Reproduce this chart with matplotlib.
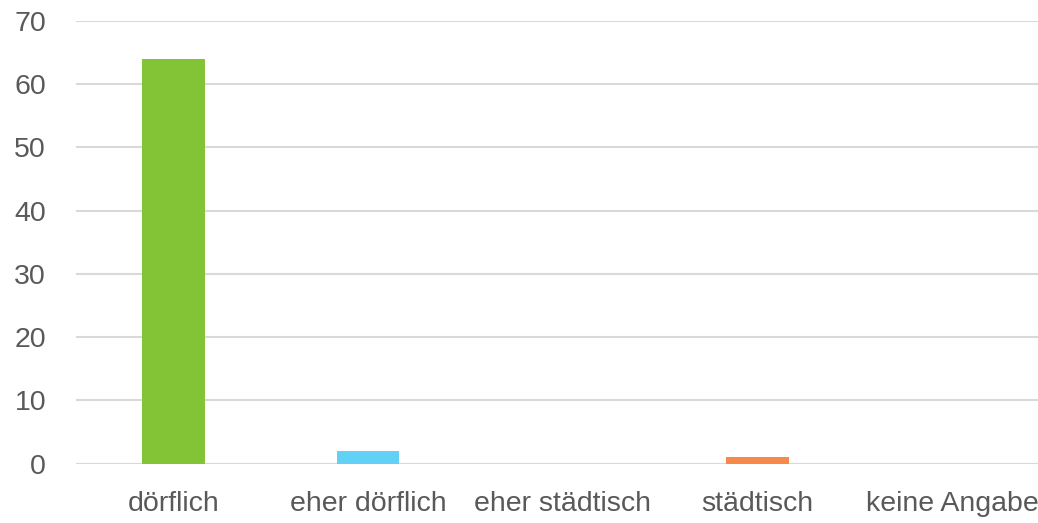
import matplotlib
matplotlib.use("Agg")
import matplotlib.pyplot as plt

categories = ["dörflich", "eher dörflich", "eher städtisch", "städtisch", "keine Angabe"]
values = [64, 2, 0, 1, 0]
colors = ["#82C436", "#63D0F5", "#9E9E9E", "#F7894A", "#9E9E9E"]
y_ticks = [0, 10, 20, 30, 40, 50, 60, 70]

plt.rcParams["font.family"] = ["Liberation Sans", "DejaVu Sans"]

fig = plt.figure(figsize=(10.38, 5.23), dpi=100)
ax = fig.add_axes([76 / 1038, (523 - 463.7) / 523, (1038 - 76) / 1038, (463.7 - 21) / 523])

x = list(range(len(categories)))
ax.bar(x, values, width=0.32, color=colors, zorder=3)

ax.set_ylim(0, 70)
ax.set_xlim(-0.5, 4.44)
ax.set_yticks(y_ticks)
ax.set_xticks(x)
ax.set_xticklabels(categories)
ax.yaxis.grid(True, color="#D9D9D9", linewidth=1.5, zorder=0)
ax.set_axisbelow(True)
for s in ax.spines.values():
    s.set_visible(False)
ax.axhline(0, color="#D9D9D9", linewidth=1.5, zorder=2)
ax.tick_params(axis="both", length=0, labelsize=20.5, colors="#595959")
ax.tick_params(axis="y", pad=21.5)
ax.tick_params(axis="x", pad=20)

fig.savefig("out.png", dpi=100)
